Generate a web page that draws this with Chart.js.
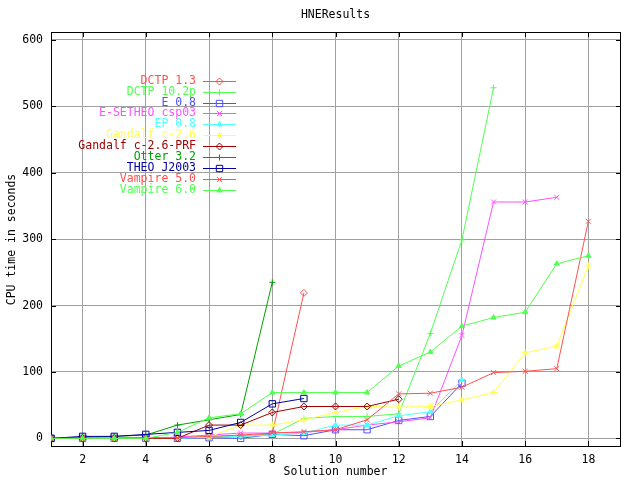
<!DOCTYPE html>
<html>
<head>
<meta charset="utf-8">
<script src="https://cdn.jsdelivr.net/npm/chart.js@4/dist/chart.umd.min.js"></script>
<style>
html,body{margin:0;padding:0;background:#fff;}
#wrap{width:640px;height:480px;position:relative;}
canvas{display:block;}
</style>
</head>
<body>
<div id="wrap"><canvas id="c" width="640" height="480"></canvas></div>
<script>
// ---- data ----
const solutionNumbers = [1,2,3,4,5,6,7,8,9,10,11,12,13,14,15,16,17,18];
const xTickLabels = [2,4,6,8,10,12,14,16,18];
const yTickLabels = [0,100,200,300,400,500,600];
const chartTitle = "HNEResults";
const xTitle = "Solution number";
const yTitle = "CPU time in seconds";

const seriesNames = ["DCTP 1.3","DCTP 10.2p","E 0.8","E-SETHEO csp03","EP 0.8","Gandalf c-2.6",
  "Gandalf c-2.6-PRF","Otter 3.2","THEO J2003","Vampire 5.0","Vampire 6.0"];

const dctp13     = [0,0,0,1,1,2,3,7,219];
const dctp102p   = [0,0,0,0,1,2,3,6,30,33,33,37,158,299,528];
const e08        = [0,0,0,0,0,1,0,6,4,13,13,27,33,83];
const esetheo    = [0,0,0,0,2,5,8,8,9,13,20,25,31,155,356,356,363];
const ep08       = [0,0,0,0,0,2,3,5,8,20,20,34,40,88];
const gandalf    = [0,0,0,0,1,2,20,20,28,39,48,47,48,58,69,129,139,260];
const gandalfPrf = [0,0,0,0,0,20,20,39,48,48,48,59];
const otter      = [0,2,3,5,20,28,36,235];
const theo       = [0,3,3,6,9,12,24,52,60];
const vampire5   = [0,0,0,1,1,3,5,8,10,13,28,67,68,77,99,101,105,327];
const vampire6   = [0,0,0,0,9,31,37,69,69,69,69,109,130,169,182,190,263,275];

const seriesValues = [dctp13,dctp102p,e08,esetheo,ep08,gandalf,gandalfPrf,otter,theo,vampire5,vampire6];

// ---- styles ----
const colors = ["#ff5050","#50ff50","#5050ff","#ff50ff","#50ffff","#ffff50",
  "#a00000","#00a000","#0000a0","#ff5050","#50ff50"];
const markers = ["rectRot","cross","rect","crossRot","triangle","star",
  "rectRot","cross","rect","crossRot","triangle"];
const markerRadius = {rectRot:3.5, cross:3, rect:4.5, crossRot:3.5, triangle:3, star:3.5};
const hollow = {rectRot:true, rect:true};
const FONT = "11.5px 'DejaVu Sans Mono'";

const datasets = seriesValues.map((vals, i) => ({
  label: seriesNames[i],
  data: vals.map((v, j) => ({x: solutionNumbers[j], y: v})),
  borderColor: colors[i],
  backgroundColor: colors[i],
  borderWidth: 1,
  pointStyle: markers[i],
  pointRadius: markerRadius[markers[i]],
  pointBorderWidth: 1,
  pointBorderColor: colors[i],
  pointBackgroundColor: hollow[markers[i]] ? "rgba(0,0,0,0)" : colors[i],
  tension: 0,
  fill: false,
  order: seriesNames.length - i
}));

function drawMarker(ctx, style, r, x, y, color) {
  ctx.save();
  ctx.strokeStyle = color;
  ctx.fillStyle = hollow[style] ? "rgba(0,0,0,0)" : color;
  ctx.lineWidth = 1;
  if (Chart.helpers && Chart.helpers.drawPoint) {
    Chart.helpers.drawPoint(ctx, {pointStyle: style, radius: r, rotation: 0, borderWidth: 1}, x, y);
  } else {
    ctx.beginPath(); ctx.arc(x, y, r, 0, Math.PI*2); ctx.stroke();
  }
  ctx.restore();
}

const gnuplotDecor = {
  id: "gnuplotDecor",
  beforeDatasetsDraw(chart) {
    const {ctx, chartArea: a, scales} = chart;
    ctx.save();
    ctx.strokeStyle = "#000";
    ctx.lineWidth = 1;
    ctx.strokeRect(a.left + 0.5, a.top + 0.5, a.right - a.left, a.bottom - a.top - 1);
    const tl = 5;
    ctx.beginPath();
    xTickLabels.forEach(v => {
      const px = Math.round(scales.x.getPixelForValue(v)) + 0.5;
      ctx.moveTo(px, a.bottom - 1); ctx.lineTo(px, a.bottom - 1 - tl);
      ctx.moveTo(px, a.top); ctx.lineTo(px, a.top + tl);
    });
    yTickLabels.forEach(v => {
      const py = Math.round(scales.y.getPixelForValue(v)) + 0.5;
      ctx.moveTo(a.left, py); ctx.lineTo(a.left + tl, py);
      ctx.moveTo(a.right + 1, py); ctx.lineTo(a.right + 1 - tl, py);
    });
    ctx.stroke();
    ctx.restore();
  },
  afterDraw(chart) {
    const {ctx, chartArea: a} = chart;
    ctx.save();
    ctx.font = FONT;
    ctx.fillStyle = "#000";
    ctx.textAlign = "center";
    ctx.textBaseline = "middle";
    const cx = (a.left + a.right) / 2;
    ctx.fillText(chartTitle, cx, 15);
    ctx.fillText(xTitle, cx, 472);
    ctx.save();
    ctx.translate(12, (a.top + a.bottom) / 2);
    ctx.rotate(-Math.PI / 2);
    ctx.fillText(yTitle, 0, 0);
    ctx.restore();
    // key
    ctx.textAlign = "right";
    seriesNames.forEach((name, i) => {
      const y = 80.7 + i * 10.93;
      const yy = Math.round(y) + 0.5;
      ctx.fillStyle = colors[i];
      ctx.fillText(name, 196, y);
      ctx.strokeStyle = colors[i];
      ctx.lineWidth = 1;
      ctx.beginPath(); ctx.moveTo(203, yy); ctx.lineTo(236, yy); ctx.stroke();
      drawMarker(ctx, markers[i], markerRadius[markers[i]], 219.5, yy, colors[i]);
    });
    ctx.restore();
  }
};

new Chart(document.getElementById("c"), {
  type: "line",
  data: {datasets},
  plugins: [gnuplotDecor],
  options: {
    responsive: false,
    animation: false,
    layout: {padding: {top: 32, right: 20, left: 0, bottom: 0}},
    plugins: {legend: {display: false}, title: {display: false}, tooltip: {enabled: false}},
    scales: {
      x: {
        type: "linear",
        min: 1, max: 19,
        afterBuildTicks: s => { s.ticks = xTickLabels.map(v => ({value: v})); },
        afterFit: s => { s.height = 33; },
        grid: {color: "#a0a0a0", lineWidth: 1, drawTicks: false},
        border: {display: false},
        ticks: {color: "#000", font: {family: "DejaVu Sans Mono", size: 11.5}, padding: 6,
                maxRotation: 0, autoSkip: false, callback: v => String(v)}
      },
      y: {
        type: "linear",
        min: -13, max: 612,
        afterBuildTicks: s => { s.ticks = yTickLabels.map(v => ({value: v})); },
        afterFit: s => { s.width = 51; },
        grid: {color: "#a0a0a0", lineWidth: 1, drawTicks: false},
        border: {display: false},
        ticks: {color: "#000", font: {family: "DejaVu Sans Mono", size: 11.5}, padding: 8,
                autoSkip: false, callback: v => String(v)}
      }
    }
  }
});
</script>
</body>
</html>
